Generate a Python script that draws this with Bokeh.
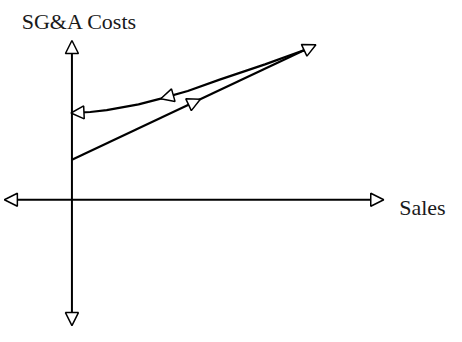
from bokeh.plotting import figure
from bokeh.models import Range1d, Arrow, NormalHead, Label
from bokeh.embed import file_html
from bokeh.resources import INLINE

# Conceptual chart: Sales (x) vs SG&A Costs (y), arbitrary units
axis_x = [-70, 323]          # horizontal axis extent (left tip, right tip)
axis_y = [-132, 167]         # vertical axis extent (bottom tip, top tip)

# Straight cost line when sales rise
up_x = [0, 241]
up_y = [42, 157]

# Sticky cost curve when sales fall back
down_x = [241, 200, 153, 120, 92, 69, 36, 19, 0]
down_y = [157, 142, 126, 114, 106, 100, 94, 92, 91]

up_mid_x = 133               # where the mid arrow on the rising line points
x_label = "Sales"
y_label = "SG&A Costs"

p = figure(width=446, height=326, output_backend="svg", toolbar_location=None,
           x_range=Range1d(-74, 388), y_range=Range1d(-133, 209),
           min_border=0, outline_line_color=None)
p.axis.visible = False
p.grid.visible = False
p.background_fill_color = "white"
p.border_fill_color = "white"

def head():
    return NormalHead(size=13, fill_color="white", line_color="black", line_width=1.5)

# axes with arrowheads at both ends
p.add_layout(Arrow(start=head(), end=head(), x_start=axis_x[0], y_start=0,
                   x_end=axis_x[1], y_end=0, line_width=2, line_color="black"))
p.add_layout(Arrow(start=head(), end=head(), x_start=0, y_start=axis_y[0],
                   x_end=0, y_end=axis_y[1], line_width=2, line_color="black"))

# lines
p.line(up_x, up_y, line_width=2.2, line_color="black")
p.line(down_x, down_y, line_width=2.2, line_color="black", line_join="round")

# top-right arrowhead (end of the rising line), extended along its direction
dx = up_x[1] - up_x[0]
dy = up_y[1] - up_y[0]
L = (dx * dx + dy * dy) ** 0.5
p.add_layout(Arrow(end=head(), x_start=up_x[1] - 0.01 * dx, y_start=up_y[1] - 0.01 * dy,
                   x_end=up_x[1] + 13 * dx / L, y_end=up_y[1] + 13 * dy / L,
                   line_width=2, line_color="black"))

# mid arrow on rising line
t = up_mid_x / dx
mx = up_x[0] + t * dx
my = up_y[0] + t * dy
p.add_layout(Arrow(end=head(), x_start=mx - 0.05 * dx, y_start=my - 0.05 * dy,
                   x_end=mx, y_end=my, line_width=2, line_color="black"))

# mid arrow on falling curve (at point index 4)
i = 4
p.add_layout(Arrow(end=head(),
                   x_start=down_x[i] + 0.5 * (down_x[i - 1] - down_x[i]),
                   y_start=down_y[i] + 0.5 * (down_y[i - 1] - down_y[i]),
                   x_end=down_x[i], y_end=down_y[i], line_width=2, line_color="black"))

# end arrow on falling curve
j = len(down_x) - 1
p.add_layout(Arrow(end=head(),
                   x_start=down_x[j] + 0.3 * (down_x[j - 1] - down_x[j]),
                   y_start=down_y[j] + 0.3 * (down_y[j - 1] - down_y[j]),
                   x_end=down_x[j] - 1, y_end=down_y[j],
                   line_width=2, line_color="black"))

p.add_layout(Label(x=-52, y=187, text=y_label, text_font="Liberation Serif",
                   text_font_size="22px", text_color="#1a1a1a", text_baseline="alphabetic"))
p.add_layout(Label(x=339, y=-8, text=x_label, text_font="Liberation Serif",
                   text_font_size="22px", text_color="#1a1a1a", text_baseline="alphabetic"))

open("out.html", "w").write(file_html(p, INLINE))
